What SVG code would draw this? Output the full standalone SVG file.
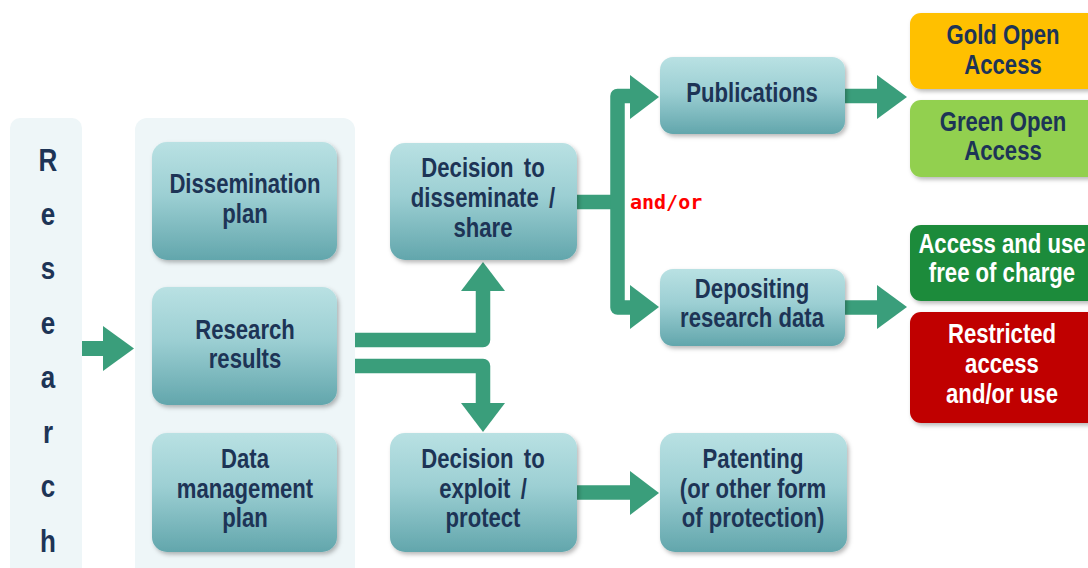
<svg xmlns="http://www.w3.org/2000/svg" width="1088" height="568" viewBox="0 0 1088 568">
<defs>
<linearGradient id="teal" x1="0" y1="0" x2="0" y2="1">
<stop offset="0" stop-color="#B9E1E3"/>
<stop offset="0.45" stop-color="#9CCFD3"/>
<stop offset="1" stop-color="#62A6AC"/>
</linearGradient>
<filter id="sh" x="-10%" y="-10%" width="125%" height="130%">
<feDropShadow dx="2" dy="2.5" stdDeviation="2" flood-color="#000" flood-opacity="0.28"/>
</filter>
<style>
.panel{fill:#EEF6F8}
.box{fill:url(#teal);filter:url(#sh)}
.cbox{filter:url(#sh)}
.t{font-family:"Liberation Sans",Arial,sans-serif;font-weight:bold;font-size:27px;fill:#1D3456;text-anchor:middle}
.w{fill:#FFFFFF}
.shaft{fill:none;stroke:#3A9E7B;stroke-width:14.5;stroke-linejoin:round}
.head{fill:#3A9E7B}
.andor{font-family:"DejaVu Sans Mono",monospace;font-weight:bold;font-size:20px;fill:#FF0000}
</style>
</defs>
<rect width="1088" height="568" fill="#FFFFFF"/>

<g id="research">
<rect class="panel" x="10" y="118" width="72" height="470" rx="10"/>
<text class="t" style="font-size:31px" transform="translate(48 0) scale(0.84 1)">
<tspan x="0" y="171">R</tspan><tspan x="0" y="225">e</tspan><tspan x="0" y="279">s</tspan><tspan x="0" y="334">e</tspan><tspan x="0" y="388">a</tspan><tspan x="0" y="443">r</tspan><tspan x="0" y="497">c</tspan><tspan x="0" y="552">h</tspan>
</text>
</g>

<g id="inputs-panel">
<rect class="panel" x="135" y="118" width="220" height="470" rx="12"/>
</g>

<g id="connectors">
<rect class="head" x="82" y="341" width="23" height="15"/>
<polygon class="head" points="103,326 103,371 134,348.5"/>
<path class="shaft" d="M355,340 H483 V291"/>
<polygon class="head" points="461,291 505,291 483,262"/>
<path class="shaft" d="M355,366 H483 V404"/>
<polygon class="head" points="461,403 505,403 483,432"/>
<path class="shaft" d="M577,202 H617.5"/>
<path class="shaft" d="M632,96 H617.5 V307.5 H632"/>
<polygon class="head" points="630,75 630,119 659,97"/>
<polygon class="head" points="630,285 630,329 659,307"/>
<path class="shaft" d="M845,96 H878"/>
<polygon class="head" points="877,75 877,119 907,97"/>
<path class="shaft" d="M845,307.5 H878"/>
<polygon class="head" points="877,285 877,329 907,307"/>
<path class="shaft" d="M577,492.5 H631"/>
<polygon class="head" points="630,471 630,515 659,493"/>
<text class="andor" x="630" y="209">and/or</text>
</g>

<g id="dissemination-plan">
<rect class="box" x="152" y="142" width="185" height="118" rx="15"/>
<text class="t" transform="translate(245 0) scale(0.82 1)"><tspan x="0" y="193">Dissemination</tspan><tspan x="0" y="223">plan</tspan></text>
</g>

<g id="research-results">
<rect class="box" x="152" y="287" width="185" height="118" rx="15"/>
<text class="t" transform="translate(245 0) scale(0.82 1)"><tspan x="0" y="339">Research</tspan><tspan x="0" y="368">results</tspan></text>
</g>

<g id="data-management-plan">
<rect class="box" x="152" y="433" width="185" height="119" rx="15"/>
<text class="t" transform="translate(245 0) scale(0.82 1)"><tspan x="0" y="468">Data</tspan><tspan x="0" y="498">management</tspan><tspan x="0" y="527">plan</tspan></text>
</g>

<g id="decision-disseminate">
<rect class="box" x="390" y="143" width="187" height="117" rx="15"/>
<text class="t" transform="translate(483 0) scale(0.82 1)"><tspan x="0" y="177" word-spacing="5">Decision to</tspan><tspan x="0" y="207" word-spacing="5">disseminate /</tspan><tspan x="0" y="237">share</tspan></text>
</g>

<g id="decision-exploit">
<rect class="box" x="390" y="433" width="187" height="119" rx="15"/>
<text class="t" transform="translate(483 0) scale(0.82 1)"><tspan x="0" y="468" word-spacing="5">Decision to</tspan><tspan x="0" y="498" word-spacing="5">exploit /</tspan><tspan x="0" y="527">protect</tspan></text>
</g>

<g id="publications">
<rect class="box" x="660" y="57" width="185" height="77" rx="13"/>
<text class="t" transform="translate(752 0) scale(0.82 1)"><tspan x="0" y="102">Publications</tspan></text>
</g>

<g id="depositing">
<rect class="box" x="660" y="269" width="185" height="77" rx="13"/>
<text class="t" transform="translate(752 0) scale(0.82 1)"><tspan x="0" y="298">Depositing</tspan><tspan x="0" y="327">research data</tspan></text>
</g>

<g id="patenting">
<rect class="box" x="660" y="433" width="187" height="119" rx="15"/>
<text class="t" transform="translate(753 0) scale(0.82 1)"><tspan x="0" y="468">Patenting</tspan><tspan x="0" y="498">(or other form</tspan><tspan x="0" y="527">of protection)</tspan></text>
</g>

<g id="gold-oa">
<rect class="cbox" x="910" y="13" width="190" height="76" rx="11" fill="#FFC000"/>
<text class="t" transform="translate(1003 0) scale(0.82 1)"><tspan x="0" y="44">Gold Open</tspan><tspan x="0" y="74">Access</tspan></text>
</g>

<g id="green-oa">
<rect class="cbox" x="910" y="100" width="190" height="77" rx="11" fill="#92D050"/>
<text class="t" transform="translate(1003 0) scale(0.82 1)"><tspan x="0" y="131">Green Open</tspan><tspan x="0" y="160">Access</tspan></text>
</g>

<g id="free-access">
<rect class="cbox" x="910" y="225" width="190" height="76" rx="11" fill="#1E8B3A"/>
<text class="t w" transform="translate(1002 0) scale(0.82 1)"><tspan x="0" y="253">Access and use</tspan><tspan x="0" y="282">free of charge</tspan></text>
</g>

<g id="restricted-access">
<rect class="cbox" x="910" y="312" width="190" height="111" rx="11" fill="#C00000"/>
<text class="t w" transform="translate(1002 0) scale(0.82 1)"><tspan x="0" y="343">Restricted</tspan><tspan x="0" y="373">access</tspan><tspan x="0" y="403">and/or use</tspan></text>
</g>
</svg>
